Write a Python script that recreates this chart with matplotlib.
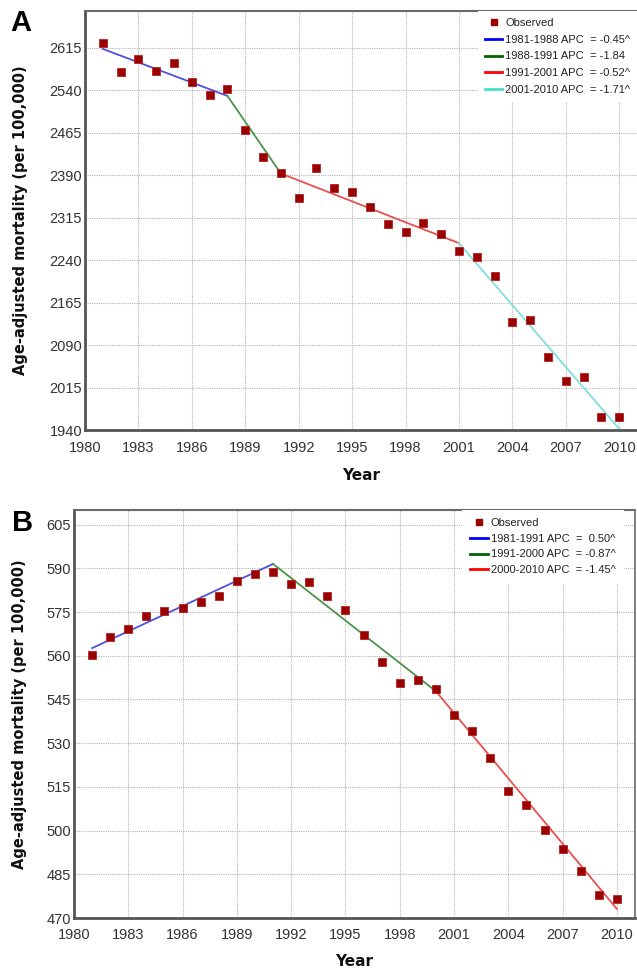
import matplotlib
matplotlib.use("Agg")
import matplotlib.pyplot as plt
from matplotlib.lines import Line2D
from matplotlib import font_manager

# --- DATA ---
years = list(range(1981, 2011))

obs_a = [2624, 2573, 2596, 2574, 2589, 2555, 2531, 2543, 2470, 2423,
         2394, 2350, 2403, 2368, 2361, 2334, 2304, 2289, 2306, 2286,
         2256, 2246, 2212, 2131, 2134, 2069, 2027, 2033, 1963, 1963]
join_years_a = [1981, 1988, 1991, 2001, 2010]
join_vals_a = [2613, 2530, 2393, 2270, 1942]
labels_a = ["1981-1988 APC  = -0.45^", "1988-1991 APC  = -1.84",
            "1991-2001 APC  = -0.52^", "2001-2010 APC  = -1.71^"]
colors_a = ["#0000ff", "#006400", "#ff0000", "#40e0d0"]
yticks_a = list(range(1940, 2616, 75))

obs_b = [560.4, 566.3, 569.1, 573.7, 575.5, 576.5, 578.4, 580.4, 585.7, 587.9,
         588.7, 584.5, 585.2, 580.6, 575.6, 567.1, 558.0, 550.8, 551.6, 548.5,
         539.5, 534.0, 524.8, 513.6, 508.9, 500.3, 493.8, 486.0, 477.8, 476.6]
join_years_b = [1981, 1991, 2000, 2010]
join_vals_b = [562.6, 591.5, 547.8, 473.1]
labels_b = ["1981-1991 APC  =  0.50^", "1991-2000 APC  = -0.87^",
            "2000-2010 APC  = -1.45^"]
colors_b = ["#0000ff", "#006400", "#ff0000"]
yticks_b = list(range(470, 606, 15))

xticks = list(range(1980, 2011, 3))

# plot-line colours are a bit softer than the legend swatches
soft = {"#0000ff": "#5050e0", "#006400": "#4a944a",
        "#ff0000": "#e85050", "#40e0d0": "#80dede"}

names = {f.name for f in font_manager.fontManager.ttflist}
LEG_FONT = "Liberation Sans Narrow" if "Liberation Sans Narrow" in names else "Liberation Sans"
LEG_SIZE = 9 if LEG_FONT == "Liberation Sans Narrow" else 8

W, H = 637, 973
fig = plt.figure(figsize=(W / 100, H / 100), dpi=100)


def px_axes(left, top, right, bottom):
    return fig.add_axes([left / W, 1 - bottom / H, (right - left) / W, (bottom - top) / H])


def draw_panel(ax, obs, jy, jv, labels, colors, yticks, ylim, leg_x, borderpad,
               labelspacing, xpad, right_spine):
    ax.set_xlim(1980, 2011)
    ax.set_ylim(*ylim)
    ax.set_xticks(xticks)
    ax.set_yticks(yticks)
    ax.grid(True, color="#b4b4b4", linestyle=(0, (1, 1)), linewidth=0.8)
    ax.set_axisbelow(True)
    ax.tick_params(length=0, labelsize=10.5, labelcolor="#333333")
    ax.tick_params(axis="x", pad=xpad)
    ax.tick_params(axis="y", pad=2)
    for lab in ax.get_xticklabels() + ax.get_yticklabels():
        lab.set_fontfamily("Liberation Sans")

    for i in range(len(jy) - 1):
        ax.plot(jy[i:i + 2], jv[i:i + 2], color=soft[colors[i]], lw=1.3, zorder=2)
    ax.plot(years, obs, ls="none", marker="s", ms=6.2, color="#990000",
            mec="#b82020", mew=0.6, zorder=3)

    ax.spines["left"].set_linewidth(2)
    ax.spines["left"].set_color("#555555")
    ax.spines["bottom"].set_linewidth(2)
    ax.spines["bottom"].set_color("#555555")
    ax.spines["top"].set_linewidth(1.5)
    ax.spines["top"].set_color("#6a6a6a")
    ax.spines["right"].set_visible(right_spine)
    ax.spines["right"].set_linewidth(1.2)
    ax.spines["right"].set_color("#6a6a6a")

    handles = [Line2D([], [], ls="none", marker="s", ms=4, color="#990000")]
    handles += [Line2D([], [], color=c, lw=2) for c in colors]
    leg = ax.legend(handles, ["Observed"] + labels, loc="upper right",
                    bbox_to_anchor=(leg_x, 1.0), borderaxespad=0,
                    borderpad=borderpad, labelspacing=labelspacing,
                    handlelength=1.6, handletextpad=0.25, fancybox=False,
                    framealpha=1, facecolor="white", edgecolor="none",
                    prop={"family": LEG_FONT, "size": LEG_SIZE})
    for t in leg.get_texts():
        t.set_color("#222222")
    leg.set_zorder(5)

    ax.set_xlabel("Year", fontsize=11, fontweight="bold", color="#111111",
                  family="DejaVu Sans")
    ax.set_ylabel("Age-adjusted mortality (per 100,000)", fontsize=10.5,
                  fontweight="bold", color="#111111", family="DejaVu Sans")


# Panel A
ax_a = px_axes(85, 11, 637, 430)
draw_panel(ax_a, obs_a, join_years_a, join_vals_a, labels_a, colors_a,
           yticks_a, (1940, 2680), 1.0, 0.6, 0.62, 8, False)
ax_a.yaxis.set_label_coords((28 - 85) / 552, 0.5)
ax_a.xaxis.set_label_coords(0.5, -(476 - 430) / 419)
ax_a.xaxis.label.set_va("center")

# Panel B
ax_b = px_axes(74, 510, 635, 918)
draw_panel(ax_b, obs_b, join_years_b, join_vals_b, labels_b, colors_b,
           yticks_b, (470, 610), (624 - 74) / 561, 0.75, 0.5, 7, True)
ax_b.yaxis.set_label_coords((27 - 74) / 561, 0.5)
ax_b.xaxis.set_label_coords(0.5, -(962 - 918) / 408)
ax_b.xaxis.label.set_va("center")

fig.text(10 / W, 1 - 23 / H, "A", fontsize=21, fontweight="bold",
         family="Liberation Sans", va="center", ha="left")
fig.text(12 / W, 1 - 523 / H, "B", fontsize=21, fontweight="bold",
         family="Liberation Sans", va="center", ha="left")

fig.savefig("out.png", dpi=100)
